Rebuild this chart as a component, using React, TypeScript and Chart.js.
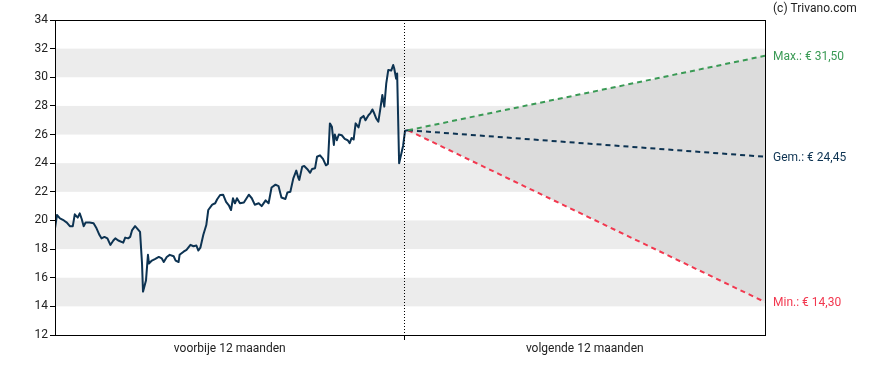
import React, { useEffect, useRef } from "react";
import { Chart, registerables } from "chart.js";

Chart.register(...registerables);

// day offsets relative to "today" (0) and closing prices
const priceDays = [-353, -351, -348, -344, -341, -338, -335, -333, -330, -328, -326, -324, -322, -318, -314, -311, -308, -306, -303, -300, -297, -294, -292, -289, -284, -282, -279, -277, -275, -272, -270, -267, -265, -264, -263, -261, -259, -258, -255, -252, -248, -245, -243, -240, -237, -233, -231, -228, -227, -223, -220, -216, -213, -210, -208, -206, -203, -200, -198, -194, -191, -189, -186, -183, -180, -177, -175, -173, -171, -169, -166, -162, -157, -154, -151, -147, -144, -140, -137, -134, -130, -127, -124, -120, -118, -115, -112, -109, -107, -106, -103, -101, -98, -95, -93, -90, -88, -85, -82, -79, -77, -75, -73, -71, -70, -68, -66, -63, -60, -57, -55, -53, -51, -49, -46, -44, -41, -39, -36, -34, -32, -30, -28, -26, -24, -22, -20, -18, -16, -13, -11, -10, -8, -7, -5, -2, -1, 1, 4];
const prices = [19.45, 20.38, 20.15, 20.0, 19.85, 19.6, 19.6, 20.43, 20.2, 20.5, 20.1, 19.6, 19.85, 19.85, 19.8, 19.45, 18.98, 18.75, 18.85, 18.75, 18.29, 18.6, 18.75, 18.6, 18.45, 18.8, 18.75, 18.85, 19.33, 19.6, 19.45, 19.2, 17.0, 15.03, 15.03, 15.8, 17.6, 17.0, 17.2, 17.3, 17.45, 17.35, 17.1, 17.45, 17.6, 17.5, 17.2, 17.1, 17.6, 17.82, 17.95, 18.3, 18.2, 18.25, 17.9, 18.1, 19.0, 19.68, 20.73, 21.1, 21.2, 21.48, 21.78, 21.8, 21.3, 21.03, 20.73, 21.55, 21.2, 21.55, 21.2, 21.25, 21.8, 21.55, 21.1, 21.2, 21.0, 21.4, 21.2, 22.3, 22.5, 22.4, 21.6, 21.5, 21.95, 22.0, 22.94, 23.48, 23.0, 22.83, 23.76, 23.8, 23.6, 23.33, 23.6, 23.65, 24.45, 24.55, 24.3, 23.85, 23.95, 26.78, 26.55, 25.27, 26.0, 25.6, 26.0, 25.95, 25.7, 25.6, 25.4, 25.76, 25.65, 26.78, 26.5, 27.13, 27.3, 27.0, 27.35, 27.5, 27.75, 27.45, 27.1, 26.9, 27.8, 28.76, 27.95, 29.58, 30.5, 30.47, 30.86, 30.63, 29.9, 30.27, 23.99, 24.9, 25.2, 26.27, 26.3];

const horizonDay = 365;
const targetMax = 31.5;
const targetAvg = 24.45;
const targetMin = 14.3;

const yTicks = [12, 14, 16, 18, 20, 22, 24, 26, 28, 30, 32, 34];
const stripeBands = [[14, 16], [18, 20], [22, 24], [26, 28], [30, 32]];
const periodLabels = ["voorbije 12 maanden", "volgende 12 maanden"];
const targetLabels = ["Max.: € 31,50", "Gem.: € 24,45", "Min.: € 14,30"];
const credit = "(c) Trivano.com";

const GREEN = "#3a9a55";
const NAVY = "#0d3352";
const RED = "#f2384f";
const FONT = "Roboto, 'Noto Sans', sans-serif";

export default function App() {
  const ref = useRef<HTMLCanvasElement | null>(null);

  useEffect(() => {
    document.body.style.margin = "0";
    const canvas = ref.current!;
    const lastDay = priceDays[priceDays.length - 1];
    const lastPrice = prices[prices.length - 1];
    const line = (end: number) => [
      { x: lastDay, y: lastPrice },
      { x: horizonDay, y: end },
    ];

    const decor = {
      id: "decor",
      beforeDraw(chart: any) {
        const { ctx, chartArea: a, scales } = chart;
        const y = scales.y;
        ctx.save();
        ctx.fillStyle = "#ececec";
        stripeBands.forEach(([lo, hi]) => {
          const t = y.getPixelForValue(hi);
          const b = y.getPixelForValue(lo);
          ctx.fillRect(a.left, t, a.right - a.left, b - t);
        });
        ctx.restore();
      },
      afterDatasetsDraw(chart: any) {
        const { ctx, chartArea: a, scales } = chart;
        const x = scales.x;
        const y = scales.y;
        const xd = Math.round(x.getPixelForValue(0)) + 0.5;
        ctx.save();
        ctx.strokeStyle = "#000";
        ctx.lineWidth = 1;
        ctx.setLineDash([1, 2]);
        ctx.beginPath();
        ctx.moveTo(xd, a.top);
        ctx.lineTo(xd, a.bottom);
        ctx.stroke();
        ctx.setLineDash([]);
        ctx.beginPath();
        ctx.moveTo(xd, a.bottom);
        ctx.lineTo(xd, a.bottom + 5);
        ctx.stroke();
        ctx.strokeRect(Math.round(a.left) + 0.5, Math.round(a.top) + 0.5, Math.round(a.right - a.left), Math.round(a.bottom - a.top));
        ctx.fillStyle = "#222";
        ctx.font = `12px ${FONT}`;
        ctx.textAlign = "center";
        ctx.textBaseline = "middle";
        ctx.fillText(periodLabels[0], (a.left + xd) / 2, a.bottom + 14);
        ctx.fillText(periodLabels[1], (xd + a.right) / 2, a.bottom + 14);
        ctx.textAlign = "left";
        const ends = [targetMax, targetAvg, targetMin];
        const cols = [GREEN, NAVY, RED];
        ends.forEach((v, i) => {
          ctx.fillStyle = cols[i];
          ctx.fillText(targetLabels[i], a.right + 8, y.getPixelForValue(v) + 1);
        });
        ctx.fillStyle = "#222";
        ctx.fillText(credit, a.right + 8, 9);
        ctx.restore();
      },
    };

    const dashed = (color: string, end: number) => ({
      data: line(end),
      borderColor: color,
      borderWidth: 2,
      borderDash: [5, 4],
      pointRadius: 0,
      fill: false as any,
    });

    const chart = new Chart(canvas, {
      type: "line",
      data: {
        datasets: [
          {
            data: priceDays.map((d, i) => ({ x: d, y: prices[i] })),
            borderColor: NAVY,
            borderWidth: 2,
            pointRadius: 0,
            tension: 0,
            borderJoinStyle: "round",
            fill: false,
          },
          { ...dashed(GREEN, targetMax), fill: { target: 3 }, backgroundColor: "#dcdcdc" },
          dashed(NAVY, targetAvg),
          dashed(RED, targetMin),
        ],
      },
      options: {
        animation: false,
        responsive: false,
        maintainAspectRatio: false,
        layout: { padding: { left: 0, top: 20, right: 123, bottom: 35 } },
        plugins: {
          legend: { display: false },
          tooltip: { enabled: false },
          filler: { drawTime: "beforeDatasetsDraw" },
        } as any,
        scales: {
          x: {
            type: "linear",
            min: priceDays[0],
            max: horizonDay,
            display: false,
          },
          y: {
            min: yTicks[0],
            max: yTicks[yTicks.length - 1],
            afterFit: (s: any) => {
              s.width = 55;
            },
            afterBuildTicks: (s: any) => {
              s.ticks = yTicks.map((v) => ({ value: v }));
            },
            grid: {
              drawOnChartArea: false,
              tickLength: 5,
              color: "#000",
            },
            border: { color: "#000" },
            ticks: {
              padding: 2,
              color: "#222",
              font: { family: FONT, size: 12 },
            },
          },
        },
      },
      plugins: [decor],
    });
    return () => chart.destroy();
  }, []);

  return <canvas ref={ref} width={888} height={370} style={{ display: "block" }} />;
}
